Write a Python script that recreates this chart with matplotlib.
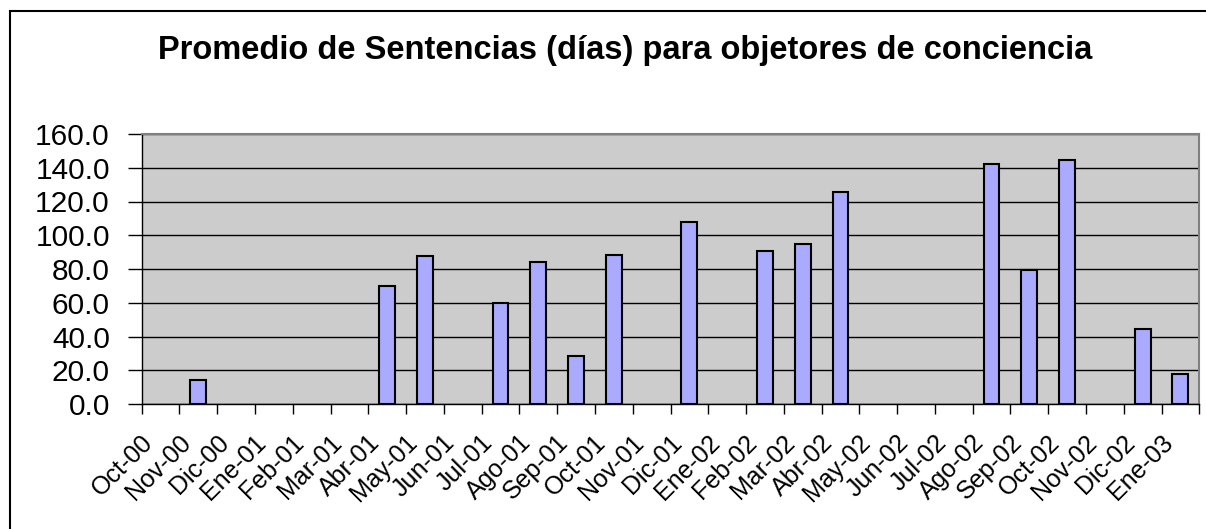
import matplotlib
matplotlib.use("Agg")
import matplotlib.pyplot as plt
import matplotlib.patches as mpatches
import matplotlib.transforms as mtransforms
from matplotlib.ticker import FormatStrFormatter
import numpy as np

months = ["Oct-00", "Nov-00", "Dic-00", "Ene-01", "Feb-01", "Mar-01", "Abr-01",
          "May-01", "Jun-01", "Jul-01", "Ago-01", "Sep-01", "Oct-01", "Nov-01",
          "Dic-01", "Ene-02", "Feb-02", "Mar-02", "Abr-02", "May-02", "Jun-02",
          "Jul-02", "Ago-02", "Sep-02", "Oct-02", "Nov-02", "Dic-02", "Ene-03"]
values = [0, 14.0, 0, 0, 0, 0, 70.0,
          88.0, 0, 60.0, 84.0, 28.3, 88.5, 0,
          107.7, 0, 90.9, 94.6, 125.4, 0, 0,
          0, 142.2, 79.2, 144.4, 0, 44.6, 17.6]
title = "Promedio de Sentencias (días) para objetores de conciencia"

plt.rcParams['font.family'] = ['Liberation Sans', 'DejaVu Sans']

W, H = 1206, 529
fig = plt.figure(figsize=(W / 100, H / 100), dpi=100)
ax = fig.add_axes([141.7 / W, 1 - 404 / H, (1199.3 - 141.7) / W, (404 - 134) / H])

# outer chart frame
fig.patches.append(mpatches.Rectangle((10 / W, -0.05), 1.2, (H - 11) / H + 0.05,
                                      transform=fig.transFigure, fill=False,
                                      edgecolor='black', linewidth=1.5))

ax.set_facecolor('#CCCCCC')
x = np.arange(len(months)) + 0.5
bar_vals = [v if v > 0 else np.nan for v in values]
ax.bar(x, bar_vals, width=0.42, color='#AAAAFF', edgecolor='black', linewidth=1.5, zorder=3)

ax.set_xlim(0, len(months))
ax.set_ylim(0, 160)
ax.set_yticks(np.arange(0, 161, 20))
ax.yaxis.set_major_formatter(FormatStrFormatter('%.1f'))
ax.grid(axis='y', color='black', linewidth=1.0, zorder=1)
ax.set_axisbelow(True)

ax.set_xticks(np.arange(len(months) + 1))
ax.set_xticklabels(months + [''], rotation=45, ha='right', va='top',
                   rotation_mode='anchor', fontsize=18)
ax.tick_params(axis='x', direction='out', length=7, width=1, pad=12)
ax.tick_params(axis='y', direction='out', length=10, width=1, labelsize=21.5, pad=13)

shift = mtransforms.ScaledTranslation(-1 / 100, 0, fig.dpi_scale_trans)
for lbl in ax.get_xticklabels():
    lbl.set_transform(lbl.get_transform() + shift)

for s in ['top', 'right']:
    ax.spines[s].set_color('#808080')
    ax.spines[s].set_linewidth(1.5)
for s in ['left', 'bottom']:
    ax.spines[s].set_color('black')
    ax.spines[s].set_linewidth(1.0)

fig.text(625 / W, 1 - 59 / H, title, ha='center', va='baseline',
         fontsize=23.5, fontweight='bold')

fig.savefig('out.png', dpi=100)
